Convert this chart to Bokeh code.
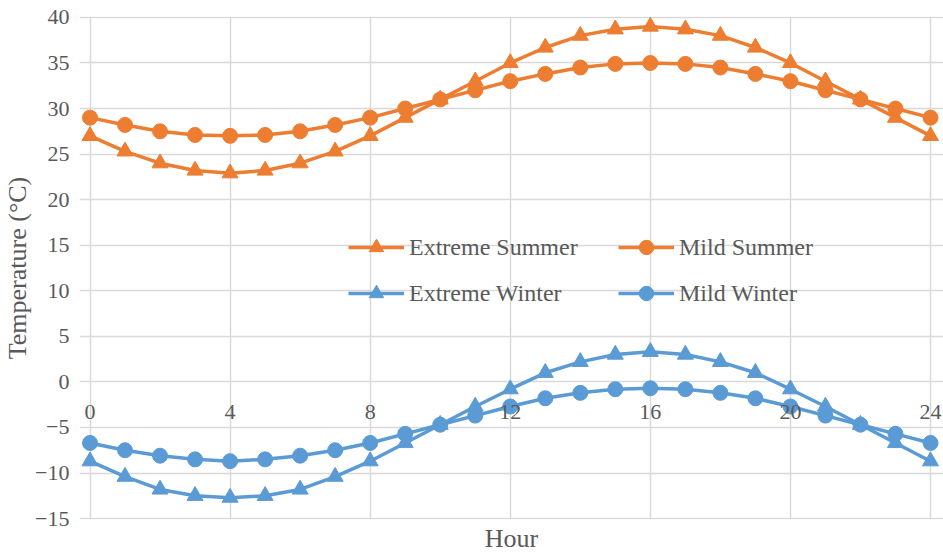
from bokeh.plotting import figure
from bokeh.models import (ColumnDataSource, Legend, LegendItem, LabelSet,
                          FixedTicker, Range1d)
from bokeh.embed import file_html
from bokeh.resources import INLINE

# Hourly temperature profiles (°C)
hours = list(range(25))
extreme_summer = [27.0, 25.3, 24.0, 23.2, 22.9, 23.2, 24.0, 25.3, 27.0, 29.0, 31.0, 33.0, 35.0,
                  36.7, 38.0, 38.7, 39.0, 38.7, 38.0, 36.7, 35.0, 33.0, 31.0, 29.0, 27.0]
mild_summer = [29.0, 28.2, 27.5, 27.1, 27.0, 27.1, 27.5, 28.2, 29.0, 30.0, 31.0, 32.0, 33.0,
               33.8, 34.5, 34.9, 35.0, 34.9, 34.5, 33.8, 33.0, 32.0, 31.0, 30.0, 29.0]
extreme_winter = [-8.7, -10.4, -11.8, -12.5, -12.7, -12.5, -11.8, -10.4, -8.7, -6.7, -4.7, -2.7, -0.8,
                  1.0, 2.2, 3.0, 3.3, 3.0, 2.2, 1.0, -0.8, -2.7, -4.7, -6.7, -8.7]
mild_winter = [-6.7, -7.5, -8.1, -8.5, -8.7, -8.5, -8.1, -7.5, -6.7, -5.7, -4.7, -3.7, -2.7,
               -1.8, -1.2, -0.8, -0.7, -0.8, -1.2, -1.8, -2.7, -3.7, -4.7, -5.7, -6.7]

x_ticks = [0, 4, 8, 12, 16, 20, 24]
x_tick_labels = [str(t) for t in x_ticks]
y_ticks = [-15, -10, -5, 0, 5, 10, 15, 20, 25, 30, 35, 40]

ORANGE = "#ED7D31"
BLUE = "#5B9BD5"
GRID = "#D9D9D9"
TEXT = "#595959"
FONT = "Liberation Serif"

# the frame is slightly wider than the 0-24 h span so edge labels are not clipped
p = figure(width=943, height=555, output_backend="svg", toolbar_location=None,
           x_range=Range1d(-0.3, 24.371), y_range=Range1d(-15.1, 40.1),
           min_border_left=78, min_border_right=0, min_border_top=16, min_border_bottom=35)
p.background_fill_color = "white"
p.border_fill_color = "white"
p.outline_line_color = None

p.xgrid.ticker = FixedTicker(ticks=x_ticks)
p.ygrid.ticker = FixedTicker(ticks=y_ticks)
p.xgrid.bounds = (-15, 40)
p.ygrid.bounds = (0, 24)
p.grid.grid_line_color = GRID
p.grid.grid_line_width = 1.5

# bottom axis only carries the title; hour labels sit on the zero line
xa = p.xaxis[0]
xa.ticker = FixedTicker(ticks=[])
xa.axis_line_color = None
xa.major_tick_line_color = None
xa.minor_tick_line_color = None
xa.axis_label = "Hour"
xa.axis_label_text_font = FONT
xa.axis_label_text_font_size = "26px"
xa.axis_label_text_color = TEXT
xa.axis_label_text_font_style = "normal"
xa.axis_label_standoff = 4

tick_src = ColumnDataSource(dict(x=x_ticks, y=[0] * len(x_ticks), t=x_tick_labels))
p.add_layout(LabelSet(x="x", y="y", text="t", source=tick_src, y_offset=-30,
                      text_align="center", text_baseline="middle",
                      text_font=FONT, text_font_size="22px", text_color=TEXT))

ya = p.yaxis[0]
ya.ticker = FixedTicker(ticks=y_ticks)
ya.axis_line_color = None
ya.major_tick_line_color = None
ya.minor_tick_line_color = None
ya.major_label_standoff = 4
ya.major_label_text_font = FONT
ya.major_label_text_font_size = "22px"
ya.major_label_text_color = TEXT
ya.axis_label = "Temperature (°C)"
ya.axis_label_text_font = FONT
ya.axis_label_text_font_size = "26px"
ya.axis_label_text_color = TEXT
ya.axis_label_text_font_style = "normal"
ya.axis_label_standoff = 0

src = ColumnDataSource(dict(h=hours, es=extreme_summer, ms=mild_summer,
                            ew=extreme_winter, mw=mild_winter))

series = [
    ("Extreme Summer", "es", ORANGE, "triangle", 16),
    ("Mild Summer", "ms", ORANGE, "circle", 15),
    ("Extreme Winter", "ew", BLUE, "triangle", 16),
    ("Mild Winter", "mw", BLUE, "circle", 15),
]

renderers = {}
for name, col, color, marker, size in series:
    ln = p.line("h", col, source=src, line_color=color, line_width=3.5)
    sc = p.scatter("h", col, source=src, marker=marker, size=size,
                   fill_color=color, line_color=color)
    renderers[name] = [ln, sc]

# legend laid out as a 2 x 2 grid inside the frame
positions = {
    "Extreme Summer": (269, 254),
    "Mild Summer": (539, 254),
    "Extreme Winter": (269, 208),
    "Mild Winter": (539, 208),
}
for name, *_ in series:
    lg = Legend(items=[LegendItem(label=name, renderers=renderers[name])],
                location=positions[name], background_fill_alpha=0,
                border_line_color=None, padding=0, margin=0, spacing=0,
                glyph_width=56, glyph_height=36, label_standoff=5,
                label_text_font=FONT, label_text_font_size="24px",
                label_text_color=TEXT)
    p.add_layout(lg, "center")

open("out.html", "w").write(file_html(p, INLINE))
